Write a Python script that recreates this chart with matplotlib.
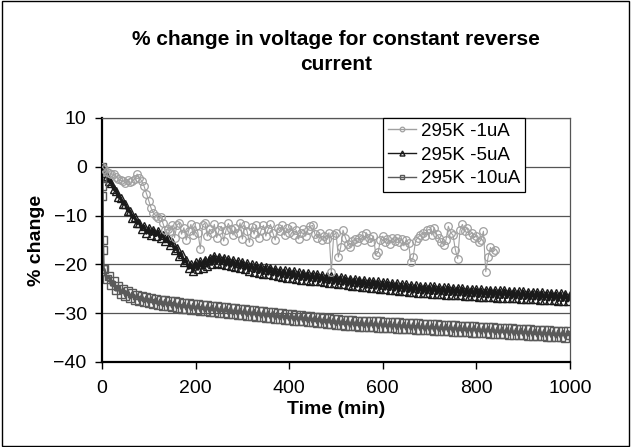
import numpy as np
import matplotlib
matplotlib.use('Agg')
import matplotlib.pyplot as plt
from matplotlib.patches import Rectangle

plt.rcParams['font.family'] = ['Liberation Sans', 'DejaVu Sans']

TITLE = '% change in voltage for constant reverse\ncurrent'
LABELS = ['295K -1uA', '295K -5uA', '295K -10uA']

# 295K -1uA, sampled every 5 min up to 840 min
t_1ua = np.arange(0, 845, 5)
v_1ua = [
    0.0, -0.5, -1.0, -1.2, -1.5, -1.5, -2.0, -2.5, -2.8, -3.0,
    -3.3, -2.7, -3.2, -3.0, -2.5, -1.5, -2.2, -3.0, -4.0, -5.5,
    -7.0, -8.5, -9.5, -10.0, -10.5, -10.2, -11.5, -13.0, -12.8, -13.2,
    -12.0, -14.5, -12.0, -11.5, -13.8, -12.5, -15.0, -13.2, -11.8, -14.0,
    -12.2, -13.5, -16.8, -12.0, -11.5, -14.2, -12.8, -13.5, -11.8, -14.5,
    -13.0, -12.2, -15.2, -13.0, -11.6, -12.8, -14.0, -12.5, -13.5, -11.5,
    -14.8, -12.0, -13.2, -15.5, -12.3, -13.8, -12.0, -14.5, -13.0, -12.0,
    -14.2, -12.8, -11.8, -13.5, -15.0, -12.5, -13.2, -12.0, -14.0, -12.6,
    -13.5, -12.2, -14.0, -13.0, -14.8, -13.5, -12.8, -14.2, -13.0, -12.2,
    -12.0, -13.8, -14.5, -13.5, -15.0, -14.2, -14.8, -13.5, -21.5, -14.0,
    -13.5, -18.5, -16.5, -13.0, -14.5, -15.8, -16.5, -15.2, -14.8, -15.5,
    -14.5, -14.0, -15.0, -13.5, -14.5, -15.5, -14.2, -18.0, -17.5, -15.0,
    -14.2, -15.5, -14.8, -15.8, -14.6, -15.2, -14.5, -15.5, -14.8, -16.2,
    -15.0, -15.6, -19.5, -18.5, -15.2, -14.5, -14.0, -13.5, -14.2, -13.0,
    -12.8, -14.0, -12.5, -13.8, -14.5, -15.5, -16.0, -15.0, -12.2, -13.5,
    -14.0, -17.0, -18.8, -13.0, -11.8, -13.2, -12.5, -14.0, -13.5, -14.5,
    -14.2, -15.5, -15.0, -13.2, -21.5, -18.5, -16.5, -17.5, -17.0,
]

# 295K -5uA, sampled every 5 min up to 1000 min
t_5ua = np.arange(0, 1005, 5)
v_5ua = [
    0.0, -1.2, -1.8, -3.0, -3.4, -4.6, -4.9, -6.2, -6.4, -7.6,
    -7.7, -9.0, -9.1, -10.4, -10.3, -11.6, -11.5, -12.8, -12.2, -13.6,
    -12.6, -13.9, -12.9, -14.1, -13.2, -14.6, -13.9, -15.3, -14.6, -16.0,
    -15.4, -17.0, -16.6, -18.3, -17.9, -19.6, -19.2, -20.8, -20.0, -21.3,
    -19.6, -21.0, -19.4, -20.8, -19.0, -20.4, -18.6, -20.0, -18.3, -19.8,
    -18.4, -19.9, -18.6, -20.2, -18.9, -20.4, -19.1, -20.6, -19.3, -20.8,
    -19.5, -21.0, -19.8, -21.3, -20.0, -21.5, -20.2, -21.7, -20.4, -21.9,
    -20.5, -22.0, -20.7, -22.2, -20.9, -22.4, -21.1, -22.6, -21.2, -22.7,
    -21.3, -22.8, -21.4, -22.9, -21.6, -23.1, -21.7, -23.2, -21.8, -23.3,
    -21.9, -23.4, -22.0, -23.5, -22.2, -23.7, -22.3, -23.8, -22.4, -23.9,
    -22.5, -24.0, -22.6, -24.1, -22.8, -24.3, -22.9, -24.4, -23.0, -24.5,
    -23.1, -24.6, -23.2, -24.7, -23.3, -24.8, -23.4, -24.9, -23.5, -25.0,
    -23.6, -25.1, -23.7, -25.2, -23.8, -25.3, -23.9, -25.4, -24.0, -25.5,
    -24.1, -25.6, -24.2, -25.7, -24.3, -25.8, -24.4, -25.9, -24.4, -25.9,
    -24.5, -26.0, -24.5, -26.0, -24.6, -26.1, -24.7, -26.2, -24.7, -26.2,
    -24.8, -26.3, -24.8, -26.3, -24.9, -26.4, -25.0, -26.5, -25.0, -26.5,
    -25.1, -26.6, -25.1, -26.6, -25.2, -26.7, -25.2, -26.7, -25.3, -26.8,
    -25.3, -26.8, -25.3, -26.8, -25.4, -26.9, -25.4, -26.9, -25.5, -27.0,
    -25.5, -27.0, -25.6, -27.1, -25.6, -27.1, -25.7, -27.2, -25.7, -27.2,
    -25.8, -27.3, -25.8, -27.3, -25.9, -27.4, -25.9, -27.4, -26.0, -27.5,
    -26.2,
]

# 295K -10uA: fast initial drop, then every 5 min from 5 to 1000 min
t_10ua_start = [0.0, 0.3, 0.6, 1.0, 1.5, 2.0, 3.0]
v_10ua_start = [0.0, -2.0, -4.0, -6.0, -15.0, -17.0, -21.0]
t_10ua_rest = np.arange(5, 1005, 5)
v_10ua_rest = [
    -21.0, -23.0, -22.4, -24.3, -23.5, -25.3, -24.4, -26.0, -25.0, -26.5,
    -25.4, -26.9, -25.8, -27.2, -26.2, -27.5, -26.4, -27.7, -26.6, -27.9,
    -26.8, -28.1, -27.0, -28.3, -27.2, -28.5, -27.3, -28.6, -27.5, -28.8,
    -27.6, -28.9, -27.8, -29.1, -27.9, -29.2, -28.0, -29.3, -28.1, -29.4,
    -28.2, -29.5, -28.3, -29.6, -28.4, -29.7, -28.5, -29.8, -28.6, -29.9,
    -28.7, -30.0, -28.8, -30.1, -28.9, -30.2, -29.0, -30.3, -29.1, -30.4,
    -29.2, -30.5, -29.3, -30.6, -29.4, -30.7, -29.5, -30.8, -29.6, -30.9,
    -29.7, -31.0, -29.8, -31.1, -29.9, -31.2, -30.0, -31.3, -30.1, -31.4,
    -30.2, -31.5, -30.3, -31.6, -30.4, -31.7, -30.5, -31.8, -30.6, -31.9,
    -30.7, -32.0, -30.8, -32.1, -30.9, -32.2, -31.0, -32.3, -31.1, -32.4,
    -31.2, -32.5, -31.3, -32.6, -31.4, -32.7, -31.4, -32.7, -31.5, -32.8,
    -31.5, -32.8, -31.6, -32.9, -31.6, -32.9, -31.7, -33.0, -31.7, -33.0,
    -31.8, -33.1, -31.8, -33.1, -31.9, -33.2, -31.9, -33.2, -32.0, -33.3,
    -32.0, -33.3, -32.1, -33.4, -32.1, -33.4, -32.2, -33.5, -32.2, -33.5,
    -32.3, -33.6, -32.3, -33.6, -32.4, -33.7, -32.4, -33.7, -32.5, -33.8,
    -32.5, -33.8, -32.6, -33.9, -32.6, -33.9, -32.7, -34.0, -32.7, -34.0,
    -32.8, -34.1, -32.8, -34.1, -32.9, -34.2, -32.9, -34.2, -33.0, -34.3,
    -33.0, -34.3, -33.1, -34.4, -33.1, -34.4, -33.2, -34.5, -33.2, -34.5,
    -33.3, -34.6, -33.3, -34.6, -33.4, -34.7, -33.4, -34.7, -33.5, -34.8,
    -33.5, -34.8, -33.6, -34.9, -33.6, -34.9, -33.7, -35.0, -33.7, -34.5,
]

XTICKS = [0, 200, 400, 600, 800, 1000]
YTICKS = [-40, -30, -20, -10, 0, 10]

fig = plt.figure(figsize=(6.31, 4.47), dpi=100)
ax = fig.add_axes([102 / 631, 1 - 362 / 447, 468 / 631, 244 / 447])

ax.plot(t_1ua, v_1ua, color='#A0A0A0', lw=0.8, marker='o', ms=5.5,
        mfc='none', mec='#A0A0A0', mew=0.9, label=LABELS[0], zorder=3)
ax.plot(t_5ua, v_5ua, color='#1A1A1A', lw=2.2, marker='^', ms=6,
        mfc='none', mec='#1A1A1A', mew=1.0, label=LABELS[1], zorder=2)
t_10ua = np.concatenate([t_10ua_start, t_10ua_rest])
v_10ua = np.concatenate([v_10ua_start, v_10ua_rest])
ax.plot(t_10ua, v_10ua, color='#5A5A5A', lw=2.0, marker='s', ms=5.5,
        mfc='none', mec='#5A5A5A', mew=1.0, label=LABELS[2], zorder=2)

ax.set_xlim(0, 1000)
ax.set_ylim(-40, 10)
ax.set_xticks(XTICKS)
ax.set_yticks(YTICKS)
ax.tick_params(direction='out', length=5, width=1, labelsize=14, colors='black')
ax.tick_params(axis='x', pad=8)
ax.tick_params(axis='y', pad=6)
ax.yaxis.grid(True, color='#555555', lw=0.9)
ax.set_axisbelow(True)
for side in ['left', 'bottom']:
    ax.spines[side].set_color('black')
    ax.spines[side].set_linewidth(1.6)
for side in ['top', 'right']:
    ax.spines[side].set_color('#555555')
    ax.spines[side].set_linewidth(0.9)

ax.set_xlabel('Time (min)', fontsize=14, fontweight='bold', labelpad=3)
ax.set_ylabel('% change', fontsize=14, fontweight='bold', labelpad=6)
fig.text(336 / 631, 1 - 52 / 447, TITLE, ha='center', va='center',
         fontsize=15, fontweight='bold', linespacing=1.45)

leg = ax.legend(loc='upper left', bbox_to_anchor=(383 / 631, 1 - 118 / 447),
                bbox_transform=fig.transFigure, fontsize=13.5, frameon=True,
                fancybox=False, edgecolor='black', framealpha=1,
                borderpad=0.25, labelspacing=0.35, handlelength=1.5,
                handletextpad=0.3, markerscale=0.6, borderaxespad=0)
leg.get_frame().set_linewidth(0.9)
for line in leg.get_lines():
    line.set_linewidth(1.0)

fig.patches.append(Rectangle((0.003, 0.003), 0.994, 0.994, transform=fig.transFigure,
                             fill=False, edgecolor='black', lw=1))

fig.savefig('out.png', dpi=100)
